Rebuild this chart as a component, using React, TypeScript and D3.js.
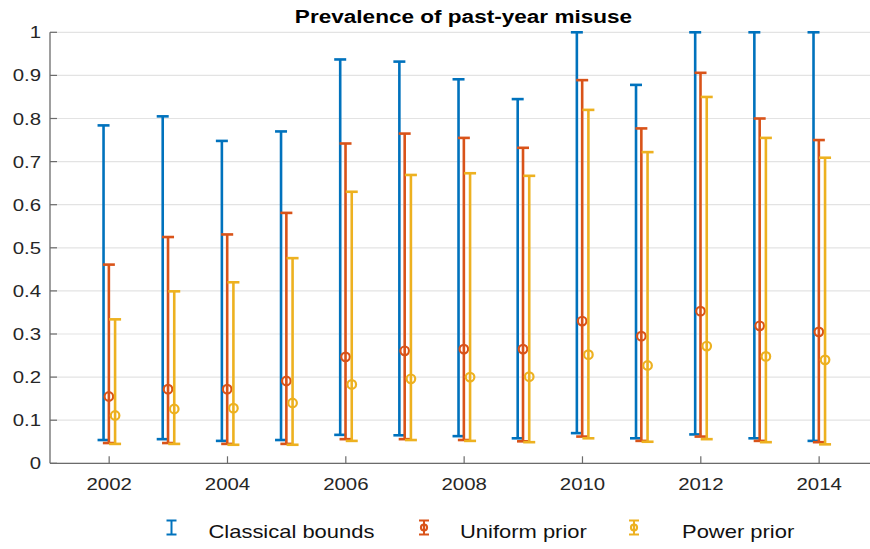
import React from "react";
import * as d3 from "d3";

// Survey years shown on the x axis
const years = [2002, 2003, 2004, 2005, 2006, 2007, 2008, 2009, 2010, 2011, 2012, 2013, 2014];

// Classical (worst-case) bounds
const classicalLower = [0.054, 0.056, 0.052, 0.054, 0.066, 0.065, 0.063, 0.058, 0.070, 0.058, 0.067, 0.058, 0.052];
const classicalUpper = [0.784, 0.805, 0.748, 0.770, 0.937, 0.932, 0.891, 0.845, 1.0, 0.878, 1.0, 1.0, 1.0];

// Bayesian intervals under a uniform prior
const uniformLower = [0.047, 0.047, 0.045, 0.045, 0.056, 0.056, 0.054, 0.051, 0.062, 0.052, 0.062, 0.052, 0.049];
const uniformUpper = [0.461, 0.525, 0.531, 0.581, 0.742, 0.765, 0.755, 0.732, 0.889, 0.777, 0.906, 0.800, 0.750];
const uniformMid = [0.155, 0.172, 0.172, 0.191, 0.247, 0.261, 0.265, 0.265, 0.330, 0.295, 0.353, 0.319, 0.305];

// Bayesian intervals under a power prior
const powerLower = [0.045, 0.045, 0.043, 0.043, 0.052, 0.054, 0.052, 0.049, 0.058, 0.050, 0.056, 0.049, 0.044];
const powerUpper = [0.334, 0.399, 0.420, 0.476, 0.630, 0.669, 0.673, 0.667, 0.820, 0.722, 0.850, 0.755, 0.709];
const powerMid = [0.111, 0.126, 0.128, 0.140, 0.183, 0.196, 0.200, 0.201, 0.252, 0.227, 0.272, 0.248, 0.240];

const yTicks = [0, 0.1, 0.2, 0.3, 0.4, 0.5, 0.6, 0.7, 0.8, 0.9, 1];
const xTicks = [2002, 2004, 2006, 2008, 2010, 2012, 2014];

const seriesNames = ["Classical bounds", "Uniform prior", "Power prior"];
const BLUE = "#0072BD";
const ORANGE = "#D95319";
const YELLOW = "#EDB120";

const W = 870;
const H = 549;
const FONT = "'Liberation Sans', Arial, Helvetica, sans-serif";
const SX = 1.2; // horizontal stretch applied to all text

const x = d3.scaleLinear().domain([2001, 2015]).range([50, 878.3]);
const y = d3.scaleLinear().domain([0, 1]).range([463.3, 32.3]);

type Series = {
  color: string;
  offset: number;
  lower: number[];
  upper: number[];
  mid?: number[];
};

const series: Series[] = [
  { color: BLUE, offset: -0.095, lower: classicalLower, upper: classicalUpper },
  { color: ORANGE, offset: -0.005, lower: uniformLower, upper: uniformUpper, mid: uniformMid },
  { color: YELLOW, offset: 0.1, lower: powerLower, upper: powerUpper, mid: powerMid },
];

function SText(props: {
  x: number;
  y: number;
  anchor?: "start" | "middle" | "end";
  size: number;
  weight?: string;
  sx?: number;
  fill?: string;
  children: React.ReactNode;
}) {
  const { x: tx, y: ty, anchor = "start", size, weight = "normal", sx = SX, fill = "#262626", children } = props;
  return (
    <g transform={`translate(${tx},${ty}) scale(${sx},1)`}>
      <text textAnchor={anchor} fontSize={size} fontWeight={weight} fontFamily={FONT} fill={fill}>
        {children}
      </text>
    </g>
  );
}

function ErrorBar({
  cx,
  lo,
  hi,
  mid,
  color,
  cap = 6,
  lw = 2.6,
  r = 4.3,
}: {
  cx: number;
  lo: number;
  hi: number;
  mid?: number;
  color: string;
  cap?: number;
  lw?: number;
  r?: number;
}) {
  return (
    <g stroke={color} strokeWidth={lw} fill="none">
      <line x1={cx} x2={cx} y1={lo} y2={hi} />
      <line x1={cx - cap} x2={cx + cap} y1={hi} y2={hi} />
      <line x1={cx - cap} x2={cx + cap} y1={lo} y2={lo} />
      {mid !== undefined && <circle cx={cx} cy={mid} r={r} fill="none" strokeWidth={2.2} />}
    </g>
  );
}

export default function App() {
  const left = x(2001);
  const bottom = y(0);
  const legendY = 527.5;
  const legendIcons = [171.5, 424, 634];
  const legendText = [208.5, 460, 682];
  return (
    <svg
      width={W}
      height={H}
      viewBox={`0 0 ${W} ${H}`}
      style={{ position: "absolute", left: 0, top: 0, background: "white" }}
    >
      <rect width={W} height={H} fill="white" />
      {/* horizontal grid */}
      {yTicks.map((t) => (
        <line key={`g${t}`} x1={left} x2={W} y1={y(t)} y2={y(t)} stroke="#e3e3e3" strokeWidth={1.2} />
      ))}

      {/* error bars */}
      {series.map((s, si) =>
        years.map((yr, i) => (
          <ErrorBar
            key={`${si}-${yr}`}
            cx={x(yr + s.offset)}
            lo={y(s.lower[i])}
            hi={y(s.upper[i])}
            mid={s.mid ? y(s.mid[i]) : undefined}
            color={s.color}
          />
        ))
      )}

      {/* axes */}
      <line x1={left} x2={left} y1={y(1)} y2={bottom} stroke="#6b6b6b" strokeWidth={1.3} />
      <line x1={left} x2={W} y1={bottom} y2={bottom} stroke="#6b6b6b" strokeWidth={1.3} />
      {yTicks.map((t) => (
        <g key={`yt${t}`}>
          <line x1={left} x2={left + 7} y1={y(t)} y2={y(t)} stroke="#6b6b6b" strokeWidth={1.2} />
          <SText x={41} y={y(t) + 6} anchor="end" size={17}>
            {String(t)}
          </SText>
        </g>
      ))}
      {xTicks.map((t) => (
        <g key={`xt${t}`}>
          <line x1={x(t)} x2={x(t)} y1={bottom} y2={bottom - 7} stroke="#6b6b6b" strokeWidth={1.2} />
          <SText x={x(t)} y={490} anchor="middle" size={17}>
            {String(t)}
          </SText>
        </g>
      ))}

      {/* title */}
      <SText x={463.5} y={23} anchor="middle" size={18.5} weight="bold" fill="#000" sx={1.22}>
        Prevalence of past-year misuse
      </SText>

      {/* legend */}
      <g>
        <ErrorBar cx={legendIcons[0]} lo={legendY + 7} hi={legendY - 7} color={BLUE} cap={5} lw={2} />
        <ErrorBar cx={legendIcons[1]} lo={legendY + 7} hi={legendY - 7} mid={legendY} color={ORANGE} cap={5} lw={2} r={3} />
        <ErrorBar cx={legendIcons[2]} lo={legendY + 7} hi={legendY - 7} mid={legendY} color={YELLOW} cap={5} lw={2} r={3} />
        {seriesNames.map((n, i) => (
          <SText key={n} x={legendText[i]} y={legendY + 10} size={18} fill="#111" sx={1.22}>
            {n}
          </SText>
        ))}
      </g>
    </svg>
  );
}
